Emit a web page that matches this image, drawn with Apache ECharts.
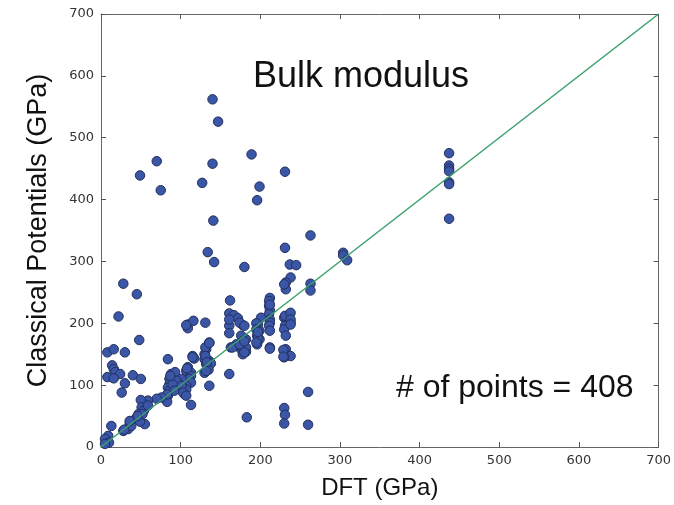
<!DOCTYPE html>
<html>
<head>
<meta charset="utf-8">
<script src="https://cdn.jsdelivr.net/npm/echarts@6/dist/echarts.min.js"></script>
<style>html,body{margin:0;padding:0;background:#fff}#c{width:674px;height:505px}</style>
</head>
<body>
<div id="c"></div>
<script>
// DFT bulk modulus (GPa) vs classical potential bulk modulus (GPa)
var dftGPa = [
140,147,70,49,75,140,127,189,231,199,196,141,134,142,180,28,45,22,231,263,
437,437,437,437,437,437,437,
304,304,309,263,263,
237,245,238,232,232,230,
212,211,211,212,211,212,212,211,212,212,212,212,
230,234,238,231,230,232,232,232,238,230,237,231,238,238,238,229,229,
230,231,230,260,260,183,
197,201,199,196,199,196,195,195,197,197,195,
162,161,167,172,161,161,178,176,182,171,163,176,182,178,161,161,174,180,178,176,182,170,180,165,174,180,
109,109,116,131,107,115,117,109,107,113,113,111,113,107,105,113,101,101,108,115,101,107,
132,136,130,130,136,138,132,130,136,131,131,135,136,133,132,
84,88,86,86,84,86,84,83,93,95,101,103,107,90,92,83,87,
8,16,30,48,14,16,18,24,8,16,30,26,40,50,
76,70,59,50,51,54,47,45,38,36,34,28,13,9,5,55,49,38,10,5,59,52,46,36,29
];
var classicalGPa = [
562,526,462,439,415,458,427,473,445,421,399,366,315,299,291,264,247,211,322,342,
475,455,450,446,428,425,369,
314,310,302,264,253,
295,294,274,266,255,263,
241,236,228,221,215,206,201,196,188,161,230,159,
209,206,201,196,190,180,158,150,147,145,215,212,217,206,198,157,146,
63,52,38,89,36,48,
198,209,188,180,174,166,200,190,177,186,169,
237,216,213,208,196,184,197,180,174,163,161,158,154,150,118,206,201,196,171,163,161,166,153,161,166,171,
198,192,204,201,197,147,143,129,123,120,115,110,104,99,85,68,110,94,127,145,95,93,
158,169,150,142,139,135,134,120,99,161,147,125,168,137,123,
142,118,110,102,96,91,83,73,121,107,99,88,83,101,91,85,115,
153,158,153,173,132,126,121,118,113,111,103,88,116,110,
80,78,75,76,64,59,53,48,42,37,29,26,34,18,13,37,41,34,7,5,67,53,50,42,28
];
var axisTicks = [0,100,200,300,400,500,600,700];
var identityLine = [[0,0],[700,700]];

var pts = dftGPa.map(function(x,i){return [x, classicalGPa[i]];});
var chart = echarts.init(document.getElementById('c'));
var tickFont = {fontFamily:'DejaVu Sans', fontSize:13, color:'#333'};
function baseAxis(pos, showLabel){
  return {
    type:'value', min:axisTicks[0], max:axisTicks[axisTicks.length-1], interval:100, position:pos,
    axisLine:{show:true, onZero:false, lineStyle:{color:'#666', width:1}},
    axisTick:{show:true, inside:true, length:5, lineStyle:{color:'#555'}},
    axisLabel:Object.assign({show:showLabel, margin:7}, tickFont),
    splitLine:{show:false}
  };
}
var xb = baseAxis('bottom', true);
xb.name = 'DFT (GPa)'; xb.nameLocation='middle'; xb.nameGap=29;
xb.nameTextStyle = {fontFamily:'Liberation Sans', fontSize:24, color:'#111'};
var xt = baseAxis('top', false);
var yl = baseAxis('left', true);
yl.name = 'Classical Potentials (GPa)'; yl.nameLocation='middle'; yl.nameGap=49;
yl.nameTextStyle = {fontFamily:'Liberation Sans', fontSize:27, color:'#111'};
var yr = baseAxis('right', false);

chart.setOption({
  animation:false,
  title:[
    {text:'Bulk modulus', left:248, top:54, textStyle:{fontFamily:'Liberation Sans', fontSize:36, fontWeight:'normal', color:'#111'}},
    {text:'# of points = 408', left:391, top:367, textStyle:{fontFamily:'Liberation Sans', fontSize:32, fontWeight:'normal', color:'#111'}}
  ],
  grid:{left:101, right:13, top:14, bottom:57, show:false},
  xAxis:[xb, xt],
  yAxis:[yl, yr],
  series:[
    {type:'line', data:identityLine, xAxisIndex:0, yAxisIndex:0, symbol:'none', z:3,
     lineStyle:{color:'#3aa06c', width:1.5}},
    {type:'scatter', data:pts, xAxisIndex:0, yAxisIndex:0, symbolSize:9.5, z:2,
     itemStyle:{color:'#3b56a6', borderColor:'#22305e', borderWidth:1, opacity:1}}
  ]
});
</script>
</body>
</html>
